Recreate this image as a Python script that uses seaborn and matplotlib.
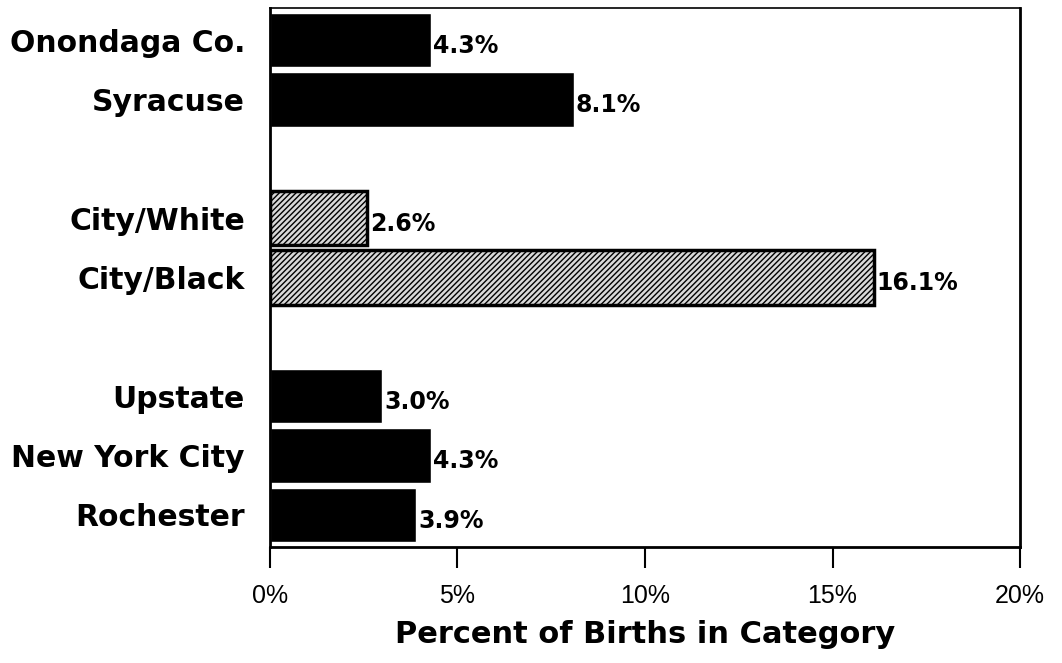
import matplotlib
matplotlib.use("Agg")
import matplotlib.pyplot as plt
import seaborn as sns
import pandas as pd

categories = ["Onondaga Co.", "Syracuse", "City/White", "City/Black", "Upstate", "New York City", "Rochester"]
values = [4.3, 8.1, 2.6, 16.1, 3.0, 4.3, 3.9]
value_labels = ["4.3%", "8.1%", "2.6%", "16.1%", "3.0%", "4.3%", "3.9%"]
hatched = ["City/White", "City/Black"]
order = ["Onondaga Co.", "Syracuse", "gap1", "City/White", "City/Black", "gap2", "Upstate", "New York City", "Rochester"]
xticks = [0, 5, 10, 15, 20]
xtick_labels = ["0%", "5%", "10%", "15%", "20%"]
xlabel = "Percent of Births in Category"

sns.set_theme(style="white")
plt.rcParams["font.family"] = ["DejaVu Sans"]
plt.rcParams["hatch.linewidth"] = 1.0
plt.rcParams["text.color"] = "black"
plt.rcParams["xtick.color"] = "black"
plt.rcParams["ytick.color"] = "black"
plt.rcParams["axes.labelcolor"] = "black"

df = pd.DataFrame({"cat": categories, "val": values})

fig = plt.figure(figsize=(10.62, 6.63), dpi=100)
ax = fig.add_axes([0.2542, 0.175, 0.7063, 0.813])

sns.barplot(data=df, x="val", y="cat", order=order, color="black",
            width=0.92, ax=ax, orient="h", saturation=1)

for patch in ax.patches:
    ypos = patch.get_y() + patch.get_height() / 2
    idx = int(round(ypos))
    name = order[idx]
    if name in hatched:
        patch.set_facecolor("#d8d8d8")
        patch.set_edgecolor("black")
        patch.set_hatch("//////")
        patch.set_linewidth(2.5)

for name, v, lab in zip(categories, values, value_labels):
    ax.text(v + 0.06, order.index(name) + 0.1, lab, va="center", ha="left",
            fontsize=17, fontweight="bold", color="black")

ax.set_xlim(0, 20)
ax.set_ylim(8.54, -0.54)
ax.set_xticks(xticks)
ax.set_xticklabels(xtick_labels, fontsize=18, family="Liberation Sans", color="black")
real_pos = [order.index(c) for c in categories]
ax.set_yticks(real_pos)
ax.set_yticklabels(categories, fontsize=21.5, fontweight="bold", color="black")
ax.set_ylabel("")
ax.set_xlabel(xlabel, fontsize=22, fontweight="bold", labelpad=8, color="black")
ax.tick_params(axis="x", bottom=True, direction="out", length=15, width=1.5, color="black", pad=12)
ax.tick_params(axis="y", left=False, length=0, pad=18)
for s in ax.spines.values():
    s.set_color("black")
    s.set_linewidth(2)
ax.spines["top"].set_linewidth(1.2)

fig.savefig("out.png", dpi=100, facecolor="white")
